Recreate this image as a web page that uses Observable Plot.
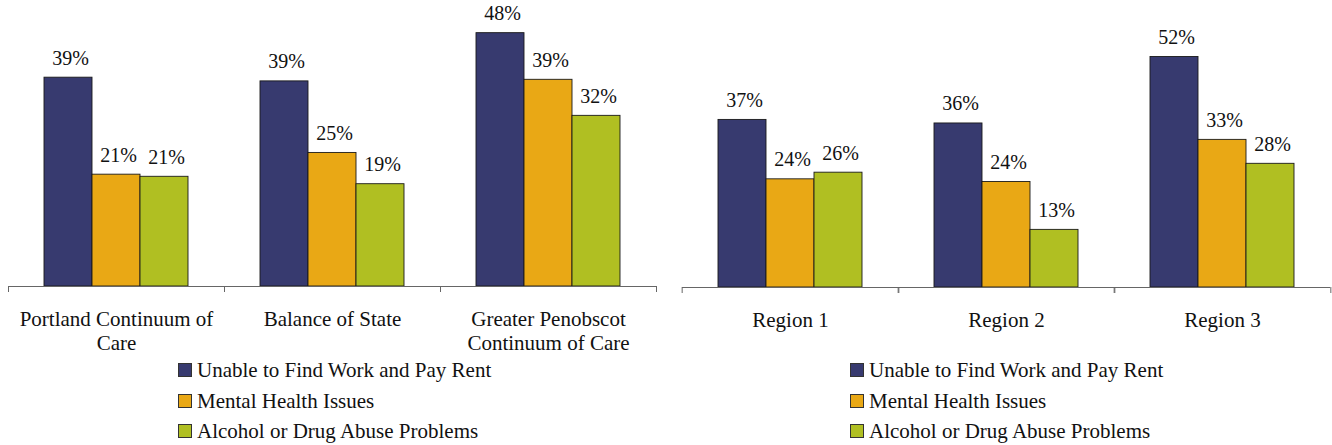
<!DOCTYPE html>
<html>
<head>
<meta charset="utf-8">
<script src="https://cdn.jsdelivr.net/npm/d3@7"></script>
<script src="https://cdn.jsdelivr.net/npm/@observablehq/plot@0.6"></script>
<style>
  html, body { margin: 0; padding: 0; background: #fff; }
  #root { position: relative; width: 1332px; height: 445px; font-family: "Liberation Serif", Tinos, "Times New Roman", serif; color: #111; }
  .panel { position: absolute; top: 0; width: 666px; height: 445px; }
  .legend { position: absolute; top: 355px; font-size: 21px; line-height: 30.5px; }
  .row { display: flex; align-items: center; height: 30.5px; white-space: nowrap; }
  .sw { width: 12px; height: 12px; border: 1px solid #333; margin-right: 5px; flex: none; }
</style>
</head>
<body>
<div id="root"></div>
<script>
// ---- data ----
const series = ["Unable to Find Work and Pay Rent", "Mental Health Issues", "Alcohol or Drug Abuse Problems"];
const colors = ["#373a6f", "#e9a815", "#b0bf22"];

// Left chart: continuums of care
const leftGroups = ["Portland Continuum of Care", "Balance of State", "Greater Penobscot Continuum of Care"];
const leftTickLabels = ["Portland Continuum of\nCare", "Balance of State", "Greater Penobscot\nContinuum of Care"];
// bar heights (percent)
const leftUnable = [39.4, 38.7, 47.8];
const leftMental = [21.1, 25.2, 39.0];
const leftAlcohol = [20.7, 19.3, 32.2];
// printed data labels (percent)
const leftUnableLabels = [39, 39, 48];
const leftMentalLabels = [21, 25, 39];
const leftAlcoholLabels = [21, 19, 32];

// Right chart: regions
const rightGroups = ["Region 1", "Region 2", "Region 3"];
const rightTickLabels = ["Region 1", "Region 2", "Region 3"];
const rightUnable = [37.8, 37.0, 52.0];
const rightMental = [24.4, 23.8, 33.3];
const rightAlcohol = [25.9, 13.0, 27.9];
const rightUnableLabels = [37, 36, 52];
const rightMentalLabels = [24, 24, 33];
const rightAlcoholLabels = [26, 13, 28];

const FONT = "'Liberation Serif', Tinos, 'Times New Roman', serif";

function toRows(groups, arrays, labels) {
  const rows = [];
  groups.forEach((g, i) => {
    arrays.forEach((arr, j) => rows.push({group: g, series: series[j], value: arr[i], label: labels[j][i] + "%"}));
  });
  return rows;
}

function makePanel({groups, tickLabels, arrays, labels, yMax, left, marginLeft, marginRight, marginBottom, legendLeft}) {
  const width = 666, height = 355;
  const data = toRows(groups, arrays, labels);
  const halfBand = (width - marginLeft - marginRight) / groups.length / 2;
  const labelMap = new Map(groups.map((g, i) => [g, tickLabels[i]]));
  const chart = Plot.plot({
    width, height,
    marginLeft, marginRight, marginTop: 21, marginBottom,
    style: {fontFamily: FONT, color: "#111", background: "#fff"},
    fx: {domain: groups, padding: 0, label: null},
    x: {domain: series, paddingInner: 0, paddingOuter: 0.75, round: false, axis: null},
    y: {domain: [0, yMax], axis: null},
    color: {domain: series, range: colors},
    marks: [
      Plot.barY(data, {fx: "group", x: "series", y: "value", fill: "series", stroke: "#1a1a1a", strokeWidth: 0.9}),
      Plot.text(data, {fx: "group", x: "series", y: "value", text: "label", dy: -13, dx: 2, lineAnchor: "bottom", fontSize: 20, fontFamily: FONT, fill: "#111"}),
      Plot.ruleY([0], {stroke: "#666", strokeWidth: 1.2}),
      Plot.axisFx({anchor: "bottom", text: null, tickSize: 6, dx: -halfBand, stroke: "#666", label: null}),
      Plot.axisFx({anchor: "bottom", text: null, tickSize: 6, dx: halfBand, stroke: "#666", label: null}),
      Plot.axisFx({anchor: "bottom", tickSize: 0, tickPadding: 23, fontSize: 21, fontFamily: FONT, lineHeight: 1.12, tickFormat: d => labelMap.get(d), label: null, fill: "#111"})
    ]
  });
  const panel = document.createElement("div");
  panel.className = "panel";
  panel.style.left = left + "px";
  panel.appendChild(chart);
  const legend = document.createElement("div");
  legend.className = "legend";
  legend.style.left = legendLeft + "px";
  series.forEach((s, i) => {
    const row = document.createElement("div");
    row.className = "row";
    const sw = document.createElement("span");
    sw.className = "sw";
    sw.style.background = colors[i];
    const t = document.createElement("span");
    t.textContent = s;
    row.appendChild(sw);
    row.appendChild(t);
    legend.appendChild(row);
  });
  panel.appendChild(legend);
  document.getElementById("root").appendChild(panel);
}

makePanel({groups: leftGroups, tickLabels: leftTickLabels, arrays: [leftUnable, leftMental, leftAlcohol],
  labels: [leftUnableLabels, leftMentalLabels, leftAlcoholLabels], yMax: 50,
  left: 0, marginLeft: 8, marginRight: 10, marginBottom: 69, legendLeft: 178});
makePanel({groups: rightGroups, tickLabels: rightTickLabels, arrays: [rightUnable, rightMental, rightAlcohol],
  labels: [rightUnableLabels, rightMentalLabels, rightAlcoholLabels], yMax: 60,
  left: 666, marginLeft: 15, marginRight: 1, marginBottom: 68, legendLeft: 184});
</script>
</body>
</html>
